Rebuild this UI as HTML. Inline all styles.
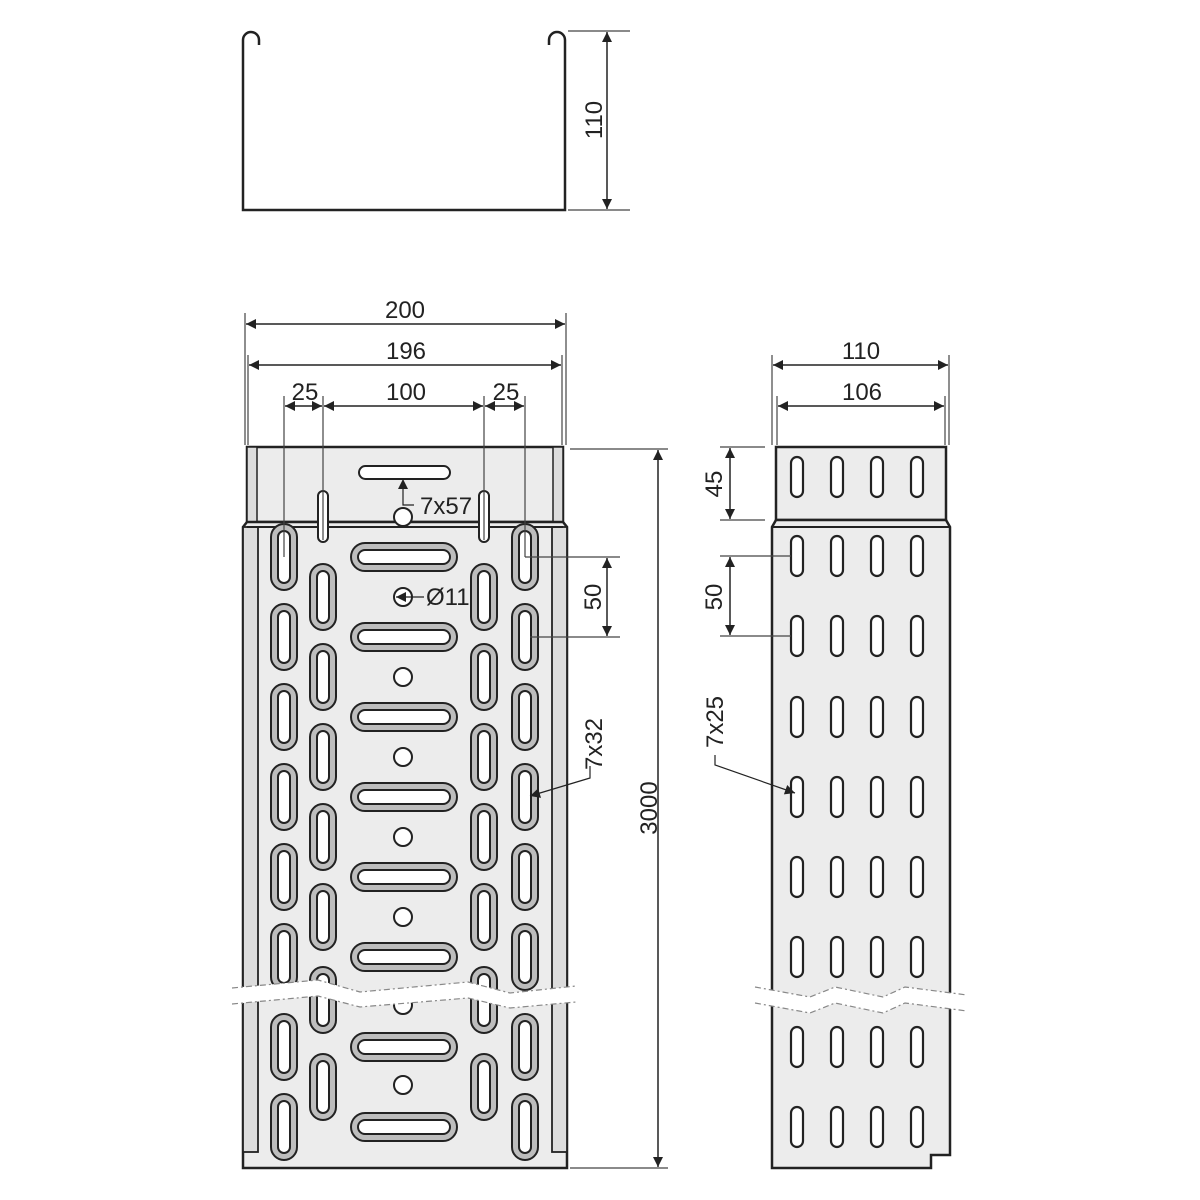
<!DOCTYPE html>
<html><head><meta charset="utf-8"><style>
html,body{margin:0;padding:0;background:#fff}
svg{display:block}
text{font-family:"Liberation Sans",sans-serif;font-size:24px;fill:#222}
</style></head><body>
<svg width="1200" height="1200" viewBox="0 0 1200 1200" xmlns="http://www.w3.org/2000/svg">
<defs>
<marker id="a" viewBox="0 0 10 10" refX="10" refY="5" markerWidth="14" markerHeight="10" markerUnits="userSpaceOnUse" orient="auto-start-reverse"><path d="M0,0L10,5L0,10z" fill="#222"/></marker>
<g id="vo"><rect x="-13" y="-33" width="26" height="66" rx="13" fill="#bdbdbd" stroke="#222" stroke-width="2"/><rect x="-6" y="-26" width="12" height="52" rx="6" fill="#fff" stroke="#222" stroke-width="2"/></g>
<g id="ho"><rect x="-53" y="-14" width="106" height="28" rx="14" fill="#bdbdbd" stroke="#222" stroke-width="2"/><rect x="-46" y="-7" width="92" height="14" rx="7" fill="#fff" stroke="#222" stroke-width="2"/></g>
<rect id="so" x="-6" y="-20" width="12" height="40" rx="6" fill="#fff" stroke="#222" stroke-width="2.2"/>
<circle id="ci" r="9" fill="#fff" stroke="#222" stroke-width="2"/>
</defs>

<path d="M259,45 L259,40 A8,8 0 0 0 243,40 L243,210 L565,210 L565,40 A8,8 0 0 0 549,40 L549,45" fill="none" stroke="#222" stroke-width="2.5"/>
<g stroke="#444" stroke-width="1.2"><line x1="568" y1="31" x2="630" y2="31"/><line x1="568" y1="210" x2="630" y2="210"/></g>
<line x1="607" y1="32" x2="607" y2="209" stroke="#222" stroke-width="1.5" marker-start="url(#a)" marker-end="url(#a)"/>
<text transform="translate(602,120) rotate(-90)" text-anchor="middle">110</text>

<rect x="247" y="447" width="316" height="75" fill="#ececec" stroke="#222" stroke-width="2.5"/>
<rect x="247" y="447" width="10" height="75" fill="#dcdcdc" stroke="#222" stroke-width="1.5"/>
<rect x="553" y="447" width="10" height="75" fill="#dcdcdc" stroke="#222" stroke-width="1.5"/>
<path d="M243,527 L247,522 L563,522 L567,527 L567,1168 L243,1168 Z" fill="#ececec" stroke="#222" stroke-width="2.5"/>
<rect x="243" y="527" width="15" height="625" fill="#dcdcdc" stroke="#222" stroke-width="1.8"/>
<rect x="552" y="527" width="15" height="625" fill="#dcdcdc" stroke="#222" stroke-width="1.8"/>
<line x1="247" y1="527" x2="563" y2="527" stroke="#222" stroke-width="2"/>
<rect x="359" y="466" width="91" height="13" rx="6.5" fill="#fff" stroke="#222" stroke-width="2"/>
<rect x="318" y="491" width="10" height="51" rx="5" fill="#fff" stroke="#222" stroke-width="2"/>
<rect x="479" y="491" width="10" height="51" rx="5" fill="#fff" stroke="#222" stroke-width="2"/>
<use href="#ci" x="403" y="517"/>

<g>
<use href="#vo" x="284" y="557"/><use href="#vo" x="284" y="637"/><use href="#vo" x="284" y="717"/><use href="#vo" x="284" y="797"/><use href="#vo" x="284" y="877"/><use href="#vo" x="284" y="957"/><use href="#vo" x="284" y="1047"/><use href="#vo" x="284" y="1127"/>
<use href="#vo" x="525" y="557"/><use href="#vo" x="525" y="637"/><use href="#vo" x="525" y="717"/><use href="#vo" x="525" y="797"/><use href="#vo" x="525" y="877"/><use href="#vo" x="525" y="957"/><use href="#vo" x="525" y="1047"/><use href="#vo" x="525" y="1127"/>
<use href="#vo" x="323" y="597"/><use href="#vo" x="323" y="677"/><use href="#vo" x="323" y="757"/><use href="#vo" x="323" y="837"/><use href="#vo" x="323" y="917"/><use href="#vo" x="323" y="1000"/><use href="#vo" x="323" y="1087"/>
<use href="#vo" x="484" y="597"/><use href="#vo" x="484" y="677"/><use href="#vo" x="484" y="757"/><use href="#vo" x="484" y="837"/><use href="#vo" x="484" y="917"/><use href="#vo" x="484" y="1000"/><use href="#vo" x="484" y="1087"/>
<use href="#ho" x="404" y="557"/><use href="#ho" x="404" y="637"/><use href="#ho" x="404" y="717"/><use href="#ho" x="404" y="797"/><use href="#ho" x="404" y="877"/><use href="#ho" x="404" y="957"/><use href="#ho" x="404" y="1047"/><use href="#ho" x="404" y="1127"/>
<use href="#ci" x="403" y="597"/><use href="#ci" x="403" y="677"/><use href="#ci" x="403" y="757"/><use href="#ci" x="403" y="837"/><use href="#ci" x="403" y="917"/><use href="#ci" x="403" y="1005"/><use href="#ci" x="403" y="1085"/>
</g>
<path d="M232,988 L318,980 L360,992 L468,982 L510,993 L576,986 L576,1002 L510,1008 L468,998 L360,1007 L318,996 L232,1004 Z" fill="#fff"/>
<g fill="none" stroke="#888" stroke-width="1.2" stroke-dasharray="6,3,2,3">
<path d="M232,988 L318,980 L360,992 L468,982 L510,993 L576,986"/>
<path d="M232,1004 L318,996 L360,1007 L468,998 L510,1008 L576,1002"/>
</g>

<rect x="776" y="447" width="170" height="73" fill="#ececec" stroke="#222" stroke-width="2.5"/>
<path d="M772,527 L776,520 L946,520 L950,527 L950,1155 L931,1155 L931,1168 L772,1168 Z" fill="#ececec" stroke="#222" stroke-width="2.5"/>
<line x1="772" y1="527" x2="950" y2="527" stroke="#222" stroke-width="2"/>
<g>
<use href="#so" x="797" y="477"/><use href="#so" x="837" y="477"/><use href="#so" x="877" y="477"/><use href="#so" x="917" y="477"/>
<use href="#so" x="797" y="556"/><use href="#so" x="837" y="556"/><use href="#so" x="877" y="556"/><use href="#so" x="917" y="556"/>
<use href="#so" x="797" y="636"/><use href="#so" x="837" y="636"/><use href="#so" x="877" y="636"/><use href="#so" x="917" y="636"/>
<use href="#so" x="797" y="717"/><use href="#so" x="837" y="717"/><use href="#so" x="877" y="717"/><use href="#so" x="917" y="717"/>
<use href="#so" x="797" y="797"/><use href="#so" x="837" y="797"/><use href="#so" x="877" y="797"/><use href="#so" x="917" y="797"/>
<use href="#so" x="797" y="877"/><use href="#so" x="837" y="877"/><use href="#so" x="877" y="877"/><use href="#so" x="917" y="877"/>
<use href="#so" x="797" y="957"/><use href="#so" x="837" y="957"/><use href="#so" x="877" y="957"/><use href="#so" x="917" y="957"/>
<use href="#so" x="797" y="1047"/><use href="#so" x="837" y="1047"/><use href="#so" x="877" y="1047"/><use href="#so" x="917" y="1047"/>
<use href="#so" x="797" y="1127"/><use href="#so" x="837" y="1127"/><use href="#so" x="877" y="1127"/><use href="#so" x="917" y="1127"/>
</g>
<path d="M755,987 L810,997 L835,987 L883,997 L905,987 L967,995 L967,1011 L905,1003 L883,1013 L835,1003 L810,1013 L755,1003 Z" fill="#fff"/>
<g fill="none" stroke="#888" stroke-width="1.2" stroke-dasharray="6,3,2,3">
<path d="M755,987 L810,997 L835,987 L883,997 L905,987 L967,995"/>
<path d="M755,1003 L810,1013 L835,1003 L883,1013 L905,1003 L967,1011"/>
</g>

<g stroke="#444" stroke-width="1.2">
<line x1="245" y1="313" x2="245" y2="445"/><line x1="566" y1="313" x2="566" y2="445"/>
<line x1="248" y1="355" x2="248" y2="445"/><line x1="562" y1="355" x2="562" y2="445"/>
<line x1="284" y1="396" x2="284" y2="557"/><line x1="323" y1="396" x2="323" y2="540"/>
<line x1="484" y1="396" x2="484" y2="540"/><line x1="525" y1="396" x2="525" y2="557"/>
<line x1="570" y1="449" x2="668" y2="449"/><line x1="570" y1="1168" x2="668" y2="1168"/>
<line x1="525" y1="557" x2="620" y2="557"/><line x1="530" y1="637" x2="620" y2="637"/>
</g>
<g stroke="#222" stroke-width="1.5">
<line x1="246" y1="324" x2="565" y2="324" marker-start="url(#a)" marker-end="url(#a)"/>
<line x1="249" y1="365" x2="561" y2="365" marker-start="url(#a)" marker-end="url(#a)"/>
<line x1="285" y1="406" x2="322" y2="406" marker-start="url(#a)" marker-end="url(#a)"/>
<line x1="324" y1="406" x2="483" y2="406" marker-start="url(#a)" marker-end="url(#a)"/>
<line x1="485" y1="406" x2="524" y2="406" marker-start="url(#a)" marker-end="url(#a)"/>
<line x1="658" y1="450" x2="658" y2="1167" marker-start="url(#a)" marker-end="url(#a)"/>
<line x1="607" y1="558" x2="607" y2="636" marker-start="url(#a)" marker-end="url(#a)"/>
</g>
<text x="405" y="318" text-anchor="middle">200</text>
<text x="406" y="359" text-anchor="middle">196</text>
<text x="305" y="400" text-anchor="middle">25</text>
<text x="406" y="400" text-anchor="middle">100</text>
<text x="506" y="400" text-anchor="middle">25</text>
<text transform="translate(601,597) rotate(-90)" text-anchor="middle">50</text>
<text transform="translate(657,808) rotate(-90)" text-anchor="middle">3000</text>
<polyline points="414,505 403,505 403,479" fill="none" stroke="#222" stroke-width="1.2" marker-end="url(#a)"/>
<text x="420" y="514">7x57</text>
<line x1="424" y1="597" x2="396" y2="597" stroke="#222" stroke-width="1.2" marker-end="url(#a)"/>
<text x="426" y="605">Ø11</text>
<polyline points="590,766 590,778 530,796" fill="none" stroke="#222" stroke-width="1.2" marker-end="url(#a)"/>
<text transform="translate(602,744) rotate(-90)" text-anchor="middle">7x32</text>

<g stroke="#444" stroke-width="1.2">
<line x1="772" y1="355" x2="772" y2="445"/><line x1="949" y1="355" x2="949" y2="445"/>
<line x1="777" y1="396" x2="777" y2="445"/><line x1="945" y1="396" x2="945" y2="445"/>
<line x1="720" y1="447" x2="765" y2="447"/><line x1="720" y1="520" x2="765" y2="520"/>
<line x1="720" y1="556" x2="791" y2="556"/><line x1="720" y1="636" x2="791" y2="636"/>
</g>
<g stroke="#222" stroke-width="1.5">
<line x1="773" y1="365" x2="948" y2="365" marker-start="url(#a)" marker-end="url(#a)"/>
<line x1="778" y1="406" x2="944" y2="406" marker-start="url(#a)" marker-end="url(#a)"/>
<line x1="730" y1="448" x2="730" y2="519" marker-start="url(#a)" marker-end="url(#a)"/>
<line x1="730" y1="557" x2="730" y2="635" marker-start="url(#a)" marker-end="url(#a)"/>
</g>
<text x="861" y="359" text-anchor="middle">110</text>
<text x="862" y="400" text-anchor="middle">106</text>
<text transform="translate(722,484) rotate(-90)" text-anchor="middle">45</text>
<text transform="translate(722,597) rotate(-90)" text-anchor="middle">50</text>
<polyline points="715,755 715,765 795,793" fill="none" stroke="#222" stroke-width="1.2" marker-end="url(#a)"/>
<text transform="translate(723,722) rotate(-90)" text-anchor="middle">7x25</text>
</svg>
</body></html>
